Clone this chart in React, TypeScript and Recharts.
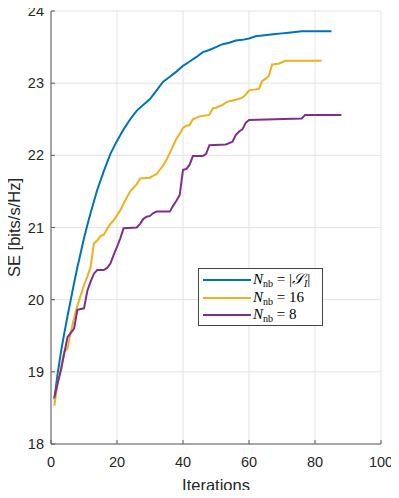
import React from 'react';
import { LineChart, Line, XAxis, YAxis, CartesianGrid } from 'recharts';

const xTicks = [0, 20, 40, 60, 80, 100];
const yTicks = [18, 19, 20, 21, 22, 23, 24];

const blueIter = [1, 2, 3, 4, 5, 6, 7, 8, 9, 10, 11, 12, 14, 16, 18, 20, 22, 24, 26, 28, 30, 32, 34, 36, 38, 40, 42, 44, 46, 48, 50, 52, 54, 56, 58, 60, 62, 64, 66, 68, 70, 72, 74, 76, 85];
const blueSE = [18.62, 18.97, 19.27, 19.53, 19.77, 20.0, 20.23, 20.45, 20.65, 20.85, 21.03, 21.2, 21.52, 21.78, 22.02, 22.2, 22.36, 22.5, 22.62, 22.7, 22.78, 22.9, 23.02, 23.09, 23.16, 23.24, 23.3, 23.36, 23.43, 23.46, 23.5, 23.54, 23.56, 23.59, 23.6, 23.62, 23.65, 23.66, 23.67, 23.68, 23.69, 23.7, 23.71, 23.72, 23.72];

const yellowIter = [1, 2, 3, 4, 5, 6, 7, 8, 9, 10, 11, 12, 13, 14, 15, 16, 17, 18, 19, 20, 21, 22, 23, 24, 25, 26, 27, 30, 31, 32, 33, 34, 35, 36, 37, 38, 39, 40, 41, 42, 43, 44, 45, 48, 49, 50, 51, 52, 53, 54, 56, 58, 59, 60, 63, 64, 65, 66, 67, 69, 70, 71, 82];
const yellowSE = [18.53, 18.84, 19.05, 19.28, 19.32, 19.55, 19.75, 19.92, 20.06, 20.2, 20.32, 20.45, 20.78, 20.82, 20.88, 20.9, 20.98, 21.05, 21.1, 21.17, 21.24, 21.33, 21.42, 21.5, 21.55, 21.6, 21.68, 21.69, 21.72, 21.74, 21.8, 21.86, 21.94, 22.03, 22.13, 22.23, 22.3, 22.38, 22.41, 22.42, 22.5, 22.52, 22.54, 22.56, 22.65, 22.66, 22.68, 22.7, 22.73, 22.75, 22.77, 22.8, 22.84, 22.9, 22.92, 23.03, 23.06, 23.1, 23.26, 23.27, 23.29, 23.31, 23.31];

const purpleIter = [1, 2, 3, 4, 5, 6, 7, 8, 10, 11, 12, 13, 14, 16, 17, 18, 19, 20, 21, 22, 26, 27, 28, 29, 30, 31, 32, 36, 37, 38, 39, 40, 41, 42, 43, 46, 47, 48, 53, 54, 55, 56, 57, 58, 59, 60, 68, 76, 77, 88];
const purpleSE = [18.64, 18.84, 19.02, 19.25, 19.48, 19.54, 19.6, 19.86, 19.88, 20.12, 20.25, 20.36, 20.41, 20.41, 20.44, 20.5, 20.62, 20.73, 20.85, 20.99, 21.0, 21.05, 21.12, 21.15, 21.16, 21.2, 21.22, 21.22, 21.3, 21.37, 21.45, 21.8, 21.81, 21.87, 21.99, 21.99, 22.02, 22.14, 22.15, 22.17, 22.19, 22.28, 22.33, 22.36, 22.45, 22.49, 22.5, 22.51, 22.56, 22.56];

const xLabel = 'Iterations';
const yLabel = 'SE [bits/s/Hz]';

const BLUE = '#0072BD';
const YELLOW = '#EDB120';
const PURPLE = '#7E2F8E';
const AXIS = '#5a5a5a';
const TEXT = '#262626';
const FONT = '"Liberation Sans", Arial, Helvetica, sans-serif';

const toData = (xs: number[], ys: number[]) => xs.map((it, i) => ({ it, se: ys[i] }));
const blueData = toData(blueIter, blueSE);
const yellowData = toData(yellowIter, yellowSE);
const purpleData = toData(purpleIter, purpleSE);

const BottomTick = (p: any) => (
  <g>
    <line x1={p.x} y1={p.y} x2={p.x} y2={p.y - 4} stroke={AXIS} />
    <text x={p.x} y={p.y + 23} textAnchor="middle" fontFamily={FONT} fontSize={14.5} fill={TEXT}>{p.payload.value}</text>
  </g>
);
const TopTick = (p: any) => (
  <line x1={p.x} y1={p.y} x2={p.x} y2={p.y + 4} stroke={AXIS} />
);
const LeftTick = (p: any) => (
  <g>
    <line x1={p.x} y1={p.y} x2={p.x + 4} y2={p.y} stroke={AXIS} />
    <text x={p.x - 7} y={p.y + 5} textAnchor="end" fontFamily={FONT} fontSize={14.5} fill={TEXT}>{p.payload.value}</text>
  </g>
);
const RightTick = (p: any) => (
  <line x1={p.x} y1={p.y} x2={p.x - 4} y2={p.y} stroke={AXIS} />
);

const XLabel = (p: any) => {
  const vb = p.viewBox;
  return (
    <text x={vb.x + vb.width / 2} y={vb.y + 47} textAnchor="middle" fontFamily={FONT} fontSize={16.5} fill={TEXT}>{xLabel}</text>
  );
};
const YLabel = (p: any) => {
  const vb = p.viewBox;
  const cx = 14;
  const cy = vb.y + vb.height / 2;
  return (
    <text x={cx} y={cy} transform={`rotate(-90, ${cx}, ${cy})`} textAnchor="middle" dominantBaseline="central" fontFamily={FONT} fontSize={16.5} fill={TEXT}>{yLabel}</text>
  );
};

const serif = '"Liberation Serif", "DejaVu Serif", "Times New Roman", serif';

const LegendRow = ({ color, top, children }: any) => (
  <div style={{ position: 'absolute', left: 0, top: top - 9, height: 18, width: 125, display: 'flex', alignItems: 'center' }}>
    <svg width={54} height={18} style={{ display: 'block' }}>
      <line x1={4} y1={9} x2={52} y2={9} stroke={color} strokeWidth={2} />
    </svg>
    <span style={{ fontFamily: serif, fontSize: 15, color: '#000', whiteSpace: 'nowrap', lineHeight: '18px' }}>{children}</span>
  </div>
);

const Nnb = () => (
  <>
    <i>N</i>
    <span style={{ fontSize: 10, position: 'relative', top: 3 }}>nb</span>
    <span> = </span>
  </>
);

export default function App() {
  return (
    <div style={{ position: 'relative', width: 399, height: 498, margin: '-8px -8px -8px -8px', background: '#fff' }}>
      <LineChart width={399} height={498} margin={{ top: 11, right: 18, bottom: 0, left: 0 }}>
        <CartesianGrid stroke="#e3e3e3" strokeWidth={1} />
        <XAxis xAxisId={0} dataKey="it" type="number" domain={[0, 100]} ticks={xTicks} height={54}
          axisLine={{ stroke: AXIS }} tickLine={false} tickSize={0} tickMargin={0} tick={<BottomTick />} allowDataOverflow
          label={<XLabel />} />
        <XAxis xAxisId="top" orientation="top" dataKey="it" type="number" domain={[0, 100]} ticks={xTicks} height={0}
          axisLine={{ stroke: AXIS }} tickLine={false} tickSize={0} tickMargin={0} tick={<TopTick />} />
        <YAxis yAxisId={0} type="number" domain={[18, 24]} ticks={yTicks} width={51}
          axisLine={{ stroke: AXIS }} tickLine={false} tickSize={0} tickMargin={0} tick={<LeftTick />} allowDataOverflow
          label={<YLabel />} />
        <YAxis yAxisId="right" orientation="right" type="number" domain={[18, 24]} ticks={yTicks} width={0}
          axisLine={{ stroke: AXIS }} tickLine={false} tickSize={0} tickMargin={0} tick={<RightTick />} />
        <Line data={blueData} dataKey="se" stroke={BLUE} strokeWidth={2} dot={false} isAnimationActive={false} />
        <Line data={yellowData} dataKey="se" stroke={YELLOW} strokeWidth={2} dot={false} isAnimationActive={false} />
        <Line data={purpleData} dataKey="se" stroke={PURPLE} strokeWidth={2} dot={false} isAnimationActive={false} />
      </LineChart>
      <div style={{ position: 'absolute', left: 198, top: 268, width: 125, height: 58, boxSizing: 'border-box', border: '1px solid #444', background: '#fff' }}>
        <LegendRow color={BLUE} top={11}>
          <Nnb />|<i>𝒮</i><span style={{ fontSize: 10, position: 'relative', top: 3, fontStyle: 'italic' }}>I</span>|
        </LegendRow>
        <LegendRow color={YELLOW} top={29}>
          <Nnb />16
        </LegendRow>
        <LegendRow color={PURPLE} top={46}>
          <Nnb />8
        </LegendRow>
      </div>
    </div>
  );
}
